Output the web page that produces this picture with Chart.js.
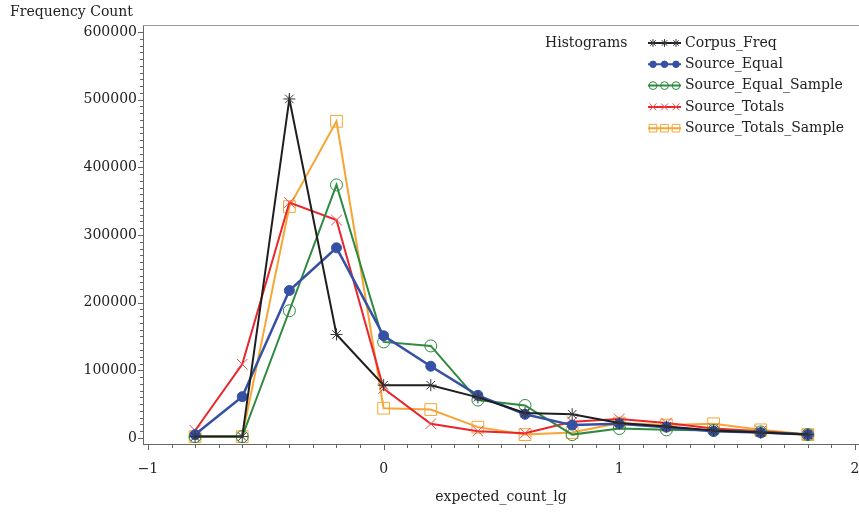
<!DOCTYPE html>
<html>
<head>
<meta charset="utf-8">
<script src="https://cdn.jsdelivr.net/npm/chart.js@4.4.1/dist/chart.umd.min.js"></script>
<style>
  html, body { margin: 0; padding: 0; background: #fff; }
  #wrap { width: 859px; height: 517px; }
</style>
</head>
<body>
<div id="wrap"><canvas id="chart" width="859" height="517"></canvas></div>
<script>
// --- Data ---
const xValues = [-0.8, -0.6, -0.4, -0.2, 0, 0.2, 0.4, 0.6, 0.8, 1.0, 1.2, 1.4, 1.6, 1.8];

const corpusFreq         = [2000, 2000, 501000, 153000, 78000, 78000, 60000, 37000, 35000, 22000, 17000, 11000, 8000, 5000];
const sourceEqual        = [5000, 61000, 218000, 281000, 151000, 106000, 63000, 35000, 19000, 21000, 16000, 10000, 8000, 5000];
const sourceEqualSample  = [2000, 2000, 188000, 374000, 142000, 136000, 56000, 48000, 5000, 14000, 12000, 11000, 9000, 5000];
const sourceTotals       = [11000, 109000, 348000, 322000, 73000, 21000, 10000, 7000, 24000, 28000, 22000, 14000, 10000, 5000];
const sourceTotalsSample = [2000, 2000, 342000, 468000, 44000, 42000, 16000, 5000, 8000, 22000, 19000, 21000, 12000, 5000];

const seriesNames = ['Corpus_Freq', 'Source_Equal', 'Source_Equal_Sample', 'Source_Totals', 'Source_Totals_Sample'];

// tick values / labels
const xTickValues = [];
for (let i = -10; i <= 20; i++) xTickValues.push(i / 10);
const xTickLabels = { '-1': '\u22121', '0': '0', '1': '1', '2': '2' };
const yTickValues = [];
for (let i = 0; i <= 60; i++) yTickValues.push(i * 10000);
const yMajorStep = 100000;

const FONT = '"DejaVu Serif", "Liberation Serif", serif';
const TEXT = '#222';

// --- styles per series ---
const styles = [
  { color: '#1e1e1e', point: 'star',     radius: 6,   fill: 'rgba(0,0,0,0)', width: 2,   pointColor: '#333' },
  { color: '#3550a5', point: 'circle',   radius: 5,   fill: '#3550a5',       width: 2.5, pointColor: '#3550a5' },
  { color: '#2e8a3e', point: 'circle',   radius: 6,   fill: 'rgba(0,0,0,0)', width: 2,   pointColor: '#2e8a3e' },
  { color: '#e8262b', point: 'crossRot', radius: 7.5, fill: 'rgba(0,0,0,0)', width: 2,   pointColor: '#f0484c' },
  { color: '#f7a534', point: 'rect',     radius: 8.3, fill: 'rgba(0,0,0,0)', width: 2,   pointColor: '#f7a534' }
];
const seriesValues = [corpusFreq, sourceEqual, sourceEqualSample, sourceTotals, sourceTotalsSample];

const datasets = seriesNames.map((name, i) => ({
  label: name,
  data: xValues.map((x, j) => ({ x, y: seriesValues[i][j] })),
  borderColor: styles[i].color,
  borderWidth: styles[i].width,
  pointStyle: styles[i].point,
  pointRadius: styles[i].radius,
  pointBorderWidth: 1,
  pointBorderColor: styles[i].pointColor,
  pointBackgroundColor: styles[i].fill,
  tension: 0,
  fill: false,
  clip: false
}));

// --- ticks, frame, titles and legend drawn on top ---
const decorPlugin = {
  id: 'decor',
  afterDraw(chart) {
    const { ctx, chartArea: a, scales: { x, y } } = chart;
    ctx.save();

    // top frame line
    ctx.strokeStyle = '#999';
    ctx.lineWidth = 1;
    ctx.beginPath();
    ctx.moveTo(a.left, a.top + 0.5);
    ctx.lineTo(a.right, a.top + 0.5);
    ctx.stroke();

    // tick marks
    ctx.strokeStyle = '#666';
    ctx.beginPath();
    xTickValues.forEach(v => {
      const px = Math.round(x.getPixelForValue(v)) + 0.5;
      const len = Number.isInteger(v) ? 6 : 4;
      ctx.moveTo(px, a.bottom);
      ctx.lineTo(px, a.bottom + len);
    });
    yTickValues.forEach(v => {
      const py = Math.round(y.getPixelForValue(v)) + 0.5;
      const len = v % yMajorStep === 0 ? 5 : 3;
      ctx.moveTo(a.left, py);
      ctx.lineTo(a.left - len, py);
    });
    ctx.stroke();

    // axis titles
    ctx.fillStyle = TEXT;
    ctx.font = '14px ' + FONT;
    ctx.textBaseline = 'middle';
    ctx.textAlign = 'left';
    ctx.fillText('Frequency Count', 10, 12);
    ctx.textAlign = 'center';
    ctx.fillText('expected_count_lg', (a.left + a.right) / 2, 497);

    // legend
    ctx.textAlign = 'left';
    ctx.fillText('Histograms', 545, 43);
    chart.data.datasets.forEach((ds, i) => {
      const cy = 43 + i * 21.3;
      ctx.strokeStyle = ds.borderColor;
      ctx.lineWidth = 2;
      ctx.beginPath();
      ctx.moveTo(648, cy);
      ctx.lineTo(681, cy);
      ctx.stroke();
      [653, 664.5, 676].forEach(mx => {
        ctx.strokeStyle = ds.pointBorderColor;
        ctx.fillStyle = ds.pointBackgroundColor;
        ctx.lineWidth = 1;
        Chart.helpers.drawPoint(ctx, {
          pointStyle: ds.pointStyle,
          radius: ds.pointRadius * 0.65,
          borderWidth: 1,
          rotation: 0
        }, mx, cy);
      });
      ctx.fillStyle = TEXT;
      ctx.fillText(ds.label, 685, cy);
    });

    ctx.restore();
  }
};

new Chart(document.getElementById('chart'), {
  type: 'line',
  data: { datasets },
  options: {
    responsive: false,
    devicePixelRatio: 1,
    animation: false,
    layout: { autoPadding: false, padding: { top: 25, left: 0, right: 0, bottom: 0 } },
    plugins: { legend: { display: false }, tooltip: { enabled: false } },
    scales: {
      x: {
        type: 'linear',
        min: -1.021,
        max: 2.017,
        afterBuildTicks: s => { s.ticks = xTickValues.map(v => ({ value: v })); },
        afterFit: s => { s.height = 73; s.paddingLeft = 0; s.paddingRight = 0; },
        grid: { display: false, drawTicks: false, tickLength: 0 },
        border: { display: true, color: '#666', width: 1 },
        ticks: {
          autoSkip: false,
          maxRotation: 0,
          padding: 17,
          color: TEXT,
          font: { family: FONT, size: 14 },
          callback: v => (xTickLabels[String(v)] !== undefined ? xTickLabels[String(v)] : '')
        }
      },
      y: {
        type: 'linear',
        min: -8900,
        max: 610300,
        afterBuildTicks: s => { s.ticks = yTickValues.map(v => ({ value: v })); },
        afterFit: s => { s.width = 143; s.paddingTop = 0; s.paddingBottom = 0; },
        grid: { display: false, drawTicks: false, tickLength: 0 },
        border: { display: true, color: '#666', width: 1 },
        ticks: {
          autoSkip: false,
          padding: 6,
          color: TEXT,
          font: { family: FONT, size: 14 },
          callback: v => (v % yMajorStep === 0 ? String(v) : '')
        }
      }
    }
  },
  plugins: [decorPlugin]
});
</script>
</body>
</html>
